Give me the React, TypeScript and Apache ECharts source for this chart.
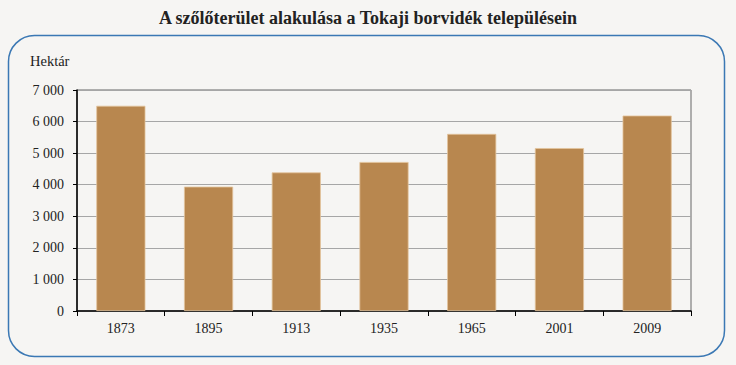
import React, { useEffect, useRef } from "react";
import * as echarts from "echarts";

const categories = ["1873", "1895", "1913", "1935", "1965", "2001", "2009"];
const hectares = [6500, 3940, 4390, 4720, 5610, 5160, 6190];
const titleText = "A szőlőterület alakulása a Tokaji borvidék településein";
const unitLabel = "Hektár";

const FONT = "'Liberation Serif', 'Times New Roman', serif";

export default function App() {
  const ref = useRef<HTMLDivElement>(null);
  useEffect(() => {
    document.body.style.margin = "0";
    const chart = echarts.init(ref.current!, null, { renderer: "svg" });
    chart.setOption({
      animation: false,
      backgroundColor: "#f6f5f3",
      textStyle: { fontFamily: FONT },
      title: {
        text: titleText,
        left: "center",
        top: 4,
        textStyle: { fontFamily: FONT, fontSize: 18, fontWeight: "bold", color: "#222" },
      },
      graphic: [
        {
          type: "rect",
          shape: { x: 8.5, y: 35.5, width: 716, height: 321, r: 26 },
          style: { fill: "none", stroke: "#3b78b4", lineWidth: 1.5 },
          z: 0,
        },
        {
          type: "text",
          left: 30,
          top: 53,
          style: { text: unitLabel, fontFamily: FONT, fontSize: 14.5, fill: "#222" },
        },
      ],
      grid: {
        left: 77,
        top: 90,
        width: 614,
        height: 221,
        show: true,
        borderColor: "#666",
        borderWidth: 1,
        backgroundColor: "transparent",
      },
      xAxis: {
        type: "category",
        data: categories,
        axisLine: { lineStyle: { color: "#000", width: 1.5 } },
        axisTick: { show: true, length: 5, lineStyle: { color: "#000" } },
        axisLabel: { fontFamily: FONT, fontSize: 14, color: "#222", margin: 10 },
      },
      yAxis: {
        type: "value",
        min: 0,
        max: 7000,
        interval: 1000,
        axisLine: { show: true, lineStyle: { color: "#000", width: 1.5 } },
        axisTick: { show: true, length: 4, lineStyle: { color: "#000" } },
        splitLine: { lineStyle: { color: "#a6a6a6", width: 1.2 } },
        axisLabel: {
          fontFamily: FONT,
          fontSize: 14,
          color: "#222",
          margin: 13,
          formatter: (v: number) => String(v).replace(/\B(?=(\d{3})+(?!\d))/g, " "),
        },
      },
      series: [
        {
          type: "bar",
          data: hectares,
          barCategoryGap: "44%",
          itemStyle: { color: "#b8874f", borderColor: "#e3c49c", borderWidth: 0.8 },
        },
      ],
    });
    return () => chart.dispose();
  }, []);
  return <div ref={ref} style={{ position: "absolute", left: 0, top: 0, width: 736, height: 365 }} />;
}
